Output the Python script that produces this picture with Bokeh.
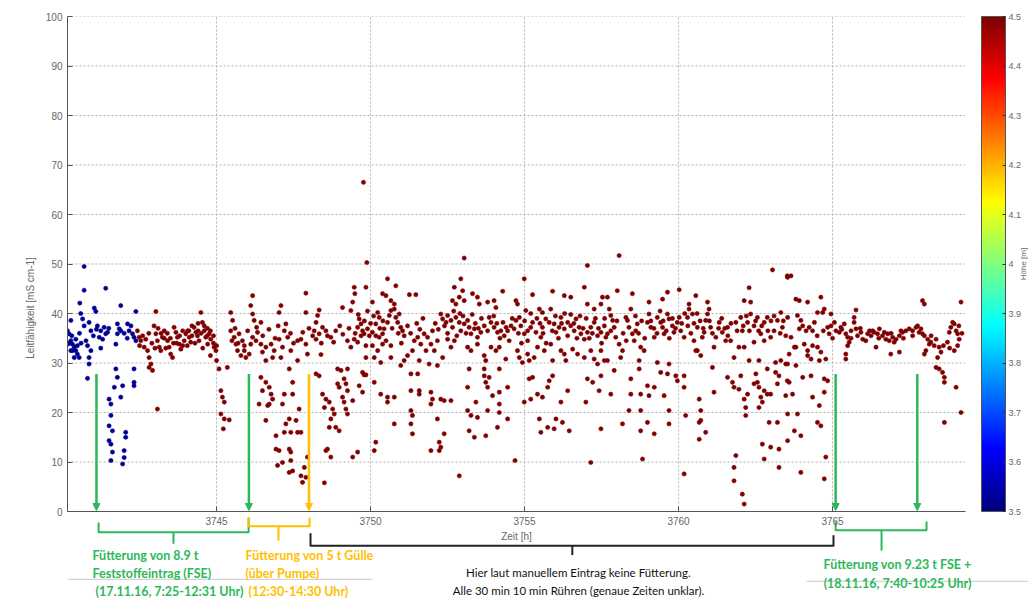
import math
from bokeh.plotting import figure
from bokeh.models import (Range1d, LinearColorMapper, ColorBar, FixedTicker, Label, Arrow,
                          NormalHead, ColumnDataSource, CustomJSTickFormatter)
from bokeh.embed import file_html
from bokeh.resources import INLINE

# ---------------- data ----------------
# time [h], conductivity [mS/cm]; height [m] per group
blue_points = [
    (3740.70,49.5),(3740.70,44.7),(3741.40,45.1),(3740.56,42.1),(3740.59,40.0),(3741.03,41.1),(3741.08,40.4),
    (3741.89,41.6),(3742.38,40.4),(3740.27,38.6),(3740.65,38.9),(3740.70,37.5),(3740.86,38.2),(3740.92,36.5),
    (3741.13,37.5),(3741.24,36.5),(3741.35,37.2),(3741.46,36.2),(3741.19,35.2),(3741.30,34.8),(3741.40,35.9),
    (3741.24,33.0),(3741.78,37.9),(3741.84,36.9),(3741.89,36.5),(3741.78,35.9),(3741.73,33.8),(3742.11,37.9),
    (3742.16,36.5),(3742.22,37.5),(3742.27,35.9),(3742.32,35.2),(3742.38,34.5),(3740.21,35.9),(3740.27,34.5),
    (3740.32,33.8),(3740.38,33.2),(3740.43,32.5),(3740.32,32.5),(3740.48,31.8),(3740.54,31.1),(3740.38,31.1),
    (3740.27,32.5),(3740.16,33.8),(3740.43,34.8),(3740.48,33.5),(3740.76,34.5),(3740.81,33.5),(3740.92,32.5),
    (3740.86,31.1),(3740.86,29.8),(3740.81,26.9),(3740.16,36.5),(3740.21,34.0),(3740.30,35.5),(3740.55,36.0),
    (3740.60,34.0),(3741.00,35.5),(3741.10,36.8),(3741.50,37.0),(3742.00,36.0),(3742.10,35.0),
    (3741.73,28.8),(3741.78,27.1),(3741.68,25.1),(3741.95,25.4),(3742.32,28.8),(3742.32,26.1),(3742.32,25.4),
    (3741.89,23.1),(3741.51,22.7),(3741.57,21.7),(3741.57,19.4),(3741.51,17.3),(3741.62,16.3),(3741.51,14.3),
    (3741.57,13.6),(3741.62,12.0),(3741.57,10.3),(3742.00,12.3),(3742.00,10.9),(3741.95,9.6),(3742.05,16.0),
    (3742.05,15.0),
]
blue_height = 3.52

red_points_a = [
    (3743.03,40.4),(3742.43,36.5),(3742.49,35.2),(3742.54,34.5),(3742.65,33.2),(3742.76,32.5),(3742.81,31.1),
    (3742.87,29.8),(3742.92,28.5),(3742.81,29.1),(3742.97,37.5),(3743.03,35.9),(3743.08,34.5),(3743.14,33.2),
    (3743.19,32.5),(3743.24,35.2),(3743.30,36.5),(3743.41,34.5),(3743.46,33.2),(3743.51,31.8),(3743.57,31.1),
    (3743.62,37.2),(3743.68,36.2),(3743.73,35.2),(3743.79,33.8),(3743.84,32.8),(3743.95,34.5),(3744.00,35.9),
    (3744.06,36.5),(3744.11,35.2),(3744.16,34.2),(3744.27,37.2),(3744.33,36.2),(3744.38,35.5),(3744.43,34.5),
    (3744.49,40.2),(3744.54,38.2),(3744.60,36.5),(3744.65,35.2),(3744.71,33.8),(3744.76,35.9),(3744.81,34.8),
    (3744.92,33.2),(3744.98,32.5),(3745.08,28.8),(3745.35,29.1),(3745.46,40.2),(3745.52,38.6),(3745.46,36.5),
    (3745.57,35.2),(3745.63,33.8),(3745.68,32.5),(3745.79,31.5),(3745.90,32.5),(3745.95,31.1),(3745.73,35.9),
    (3745.84,34.5),(3743.08,20.7),(3745.14,24.4),(3745.19,23.1),(3745.25,22.1),(3745.14,19.7),(3745.25,18.7),
    (3745.41,18.5),(3745.22,16.7),(3742.60,35.5),(3742.90,34.0),(3743.20,36.0),(3743.50,35.0),(3743.70,34.0),
    (3743.90,36.5),(3744.20,37.5),(3744.40,38.0),(3744.50,36.0),(3744.70,37.0),(3744.90,35.5),(3743.35,33.0),
    (3744.05,33.5),(3744.55,33.0),(3745.00,30.5),(3744.80,31.5),
    (3742.5,33.5),(3742.7,34.8),(3742.8,36.0),(3743.0,33.0),(3743.1,37.0),(3743.3,35.0),(3743.4,36.0),
    (3743.6,34.0),(3743.8,35.5),(3743.9,33.5),(3744.1,36.5),(3744.2,35.5),(3744.3,34.0),(3744.4,36.5),
    (3744.6,37.5),(3744.7,35.5),(3744.8,36.5),(3744.9,34.0),(3745.0,33.5),(3745.5,34.5),(3745.6,37.0),
    (3745.7,34.0),(3745.9,33.5),
]
red_points_b = [
    (3749.88,50.3),(3750.55,47.0),(3750.82,45.6),(3747.90,44.1),(3746.17,43.6),(3749.47,45.3),(3749.49,44.0),
    (3749.42,42.3),(3749.85,45.3),(3750.39,44.0),(3750.50,43.6),(3750.66,42.6),(3750.77,41.9),(3751.26,43.8),
    (3751.47,43.8),(3750.06,42.3),(3746.11,41.6),(3746.17,39.9),(3746.22,38.6),(3746.44,38.2),(3747.09,41.6),
    (3747.03,40.2),(3747.90,40.2),(3748.33,40.7),(3748.28,39.6),(3748.23,38.2),(3748.17,36.5),(3748.12,35.5),
    (3748.23,34.8),(3748.33,35.9),(3748.44,37.2),(3748.55,36.5),(3748.60,35.5),(3748.71,35.2),(3748.87,36.5),
    (3749.09,41.2),(3749.36,40.6),(3749.63,38.9),(3749.69,37.9),(3749.58,37.2),(3749.74,36.5),(3749.79,35.9),
    (3749.90,36.9),(3749.96,35.5),(3750.06,36.2),(3750.17,35.5),(3750.28,35.2),(3750.39,35.9),(3750.44,36.9),
    (3750.55,38.2),(3750.61,39.6),(3750.66,40.6),(3750.77,40.9),(3750.82,39.2),(3750.88,38.2),(3750.93,39.9),
    (3750.98,37.2),(3751.04,36.5),(3751.09,35.5),(3750.23,40.2),(3750.28,39.2),(3750.17,37.9),(3749.25,34.5),
    (3749.36,33.2),(3749.47,34.8),(3749.58,34.2),(3749.69,35.5),(3749.85,33.5),(3750.06,33.5),(3750.23,32.5),
    (3750.39,33.8),(3750.66,33.5),(3749.85,31.1),(3750.12,31.1),(3750.33,30.1),(3750.66,31.1),(3750.98,29.5),
    (3751.09,30.5),(3751.20,31.5),(3751.36,32.5),(3751.42,34.5),(3751.53,35.2),(3751.63,33.8),(3751.74,35.9),
    (3751.80,32.5),(3751.58,30.5),(3751.53,27.8),(3751.31,27.8),(3746.01,36.5),(3746.17,35.2),(3746.33,36.2),
    (3746.28,34.5),(3746.11,33.8),(3746.06,31.8),(3746.44,33.8),(3746.60,33.2),(3746.77,33.8),(3746.87,32.5),
    (3746.49,32.2),(3746.60,30.5),(3746.82,31.1),(3747.09,31.1),(3747.14,33.2),(3747.03,34.8),(3747.20,36.5),
    (3747.25,37.9),(3747.31,35.2),(3747.63,34.5),(3747.74,34.8),(3747.90,33.8),(3747.95,31.8),(3747.63,30.5),
    (3747.36,28.8),(3747.41,32.5),(3748.39,31.7),(3748.93,28.8),(3749.04,28.5),(3749.25,28.8),(3749.74,28.1),
    (3749.85,27.6),(3746.44,27.1),(3746.60,26.1),(3746.71,25.1),(3746.49,24.4),(3746.77,23.7),(3746.82,22.7),
    (3746.71,21.7),(3746.38,21.7),(3746.66,21.4),(3747.14,21.7),(3747.20,23.7),(3747.47,23.7),(3747.47,26.1),
    (3747.68,20.7),(3746.60,18.4),(3746.93,15.3),(3747.20,16.0),(3747.25,17.7),(3747.36,18.7),(3747.58,18.4),
    (3747.63,16.0),(3747.41,16.0),(3747.74,16.0),(3746.93,12.6),(3747.03,12.3),(3747.36,12.6),(3747.41,12.0),
    (3747.14,9.9),(3746.98,9.3),(3747.41,10.3),(3747.36,7.9),(3747.47,8.2),(3747.74,7.2),(3747.79,5.9),
    (3747.85,8.9),(3747.90,6.9),(3747.95,11.0),(3748.23,27.8),(3748.33,27.4),(3748.44,23.7),(3748.55,22.7),
    (3748.66,22.1),(3748.50,21.0),(3748.77,20.7),(3748.82,19.7),(3748.71,18.7),(3748.66,17.0),(3748.60,12.6),
    (3748.55,12.3),(3748.71,11.0),(3748.50,5.8),(3748.93,25.8),(3748.98,25.1),(3749.14,26.8),(3749.20,25.8),
    (3749.25,24.4),(3749.09,23.1),(3749.14,22.1),(3749.20,20.7),(3749.25,19.7),(3748.87,17.0),(3748.98,16.3),
    (3749.42,22.4),(3749.63,25.4),(3749.74,24.1),(3749.79,27.6),(3750.12,26.1),(3750.33,23.7),(3750.55,23.1),
    (3750.77,23.1),(3750.55,22.1),(3750.77,17.7),(3750.17,14.0),(3750.12,12.3),(3749.58,12.0),(3749.42,11.0),
    (3751.31,20.4),(3751.36,19.4),(3751.31,17.7),(3751.36,15.7),(3751.31,24.4),(3751.58,24.4),(3751.58,23.7),
    (3749.77,66.5),
    (3746.3,37.2),(3746.5,35.5),(3746.7,36.8),(3746.9,35.0),(3747.0,37.5),(3747.4,36.0),(3747.5,34.0),
    (3747.8,36.2),(3748.0,37.0),(3748.4,34.0),(3748.8,34.2),(3749.0,37.5),(3749.1,35.8),(3749.3,37.0),
    (3749.5,36.0),(3749.6,39.8),(3749.8,38.5),(3749.9,40.5),(3750.0,38.0),(3750.1,39.5),(3750.3,37.0),
    (3750.4,38.5),(3750.5,34.5),(3750.7,37.0),(3750.9,36.0),(3751.0,34.0),(3751.2,37.5),(3751.3,36.0),
    (3751.5,38.0),(3751.6,36.8),(3751.7,39.0),
]
red_points_c = [
    (3753.04,51.2),(3757.04,49.7),(3752.93,47.0),(3752.72,45.3),(3752.99,44.6),(3752.66,42.6),(3752.88,43.3),
    (3752.77,41.9),(3753.04,42.6),(3753.31,44.0),(3753.47,43.3),(3753.53,41.9),(3753.80,42.3),(3754.01,42.6),
    (3754.07,41.2),(3754.29,44.5),(3754.72,42.6),(3754.77,41.9),(3754.99,47.0),(3755.04,40.6),(3755.26,43.8),
    (3755.48,40.9),(3755.58,40.2),(3755.85,40.9),(3755.91,44.5),(3756.29,43.6),(3756.50,43.3),(3756.94,45.3),
    (3757.04,41.9),(3757.26,40.9),(3757.53,43.3),(3757.48,41.9),(3752.28,39.9),(3752.34,38.9),(3752.45,38.2),
    (3752.50,39.6),(3752.61,38.6),(3752.66,37.2),(3752.77,39.2),(3752.88,38.2),(3752.93,36.5),(3753.04,37.9),
    (3753.15,38.6),(3753.20,37.2),(3753.26,35.9),(3753.37,36.9),(3753.47,35.2),(3753.58,36.2),(3753.69,37.5),
    (3753.85,39.2),(3753.91,38.2),(3754.01,37.2),(3754.12,36.2),(3754.23,36.5),(3754.34,35.5),(3754.45,36.5),
    (3754.56,37.5),(3754.66,36.9),(3754.72,38.6),(3754.83,39.2),(3754.88,37.5),(3754.99,35.9),(3755.10,34.5),
    (3755.20,37.2),(3755.26,38.2),(3755.37,36.2),(3755.53,35.2),(3755.58,37.2),(3755.69,38.9),(3755.80,38.2),
    (3755.96,37.9),(3756.02,36.2),(3756.12,37.2),(3756.18,39.2),(3756.29,36.9),(3756.40,38.2),(3756.50,37.5),
    (3756.61,36.5),(3756.67,38.9),(3756.77,37.2),(3756.83,35.9),(3756.94,34.8),(3757.04,36.2),(3757.15,37.2),
    (3757.26,38.2),(3757.37,35.5),(3757.48,36.2),(3757.59,37.5),(3757.64,35.2),(3751.85,35.2),(3751.96,33.8),
    (3752.07,32.5),(3752.17,34.5),(3752.01,36.5),(3752.34,31.1),(3752.50,34.8),(3752.61,33.2),(3752.72,34.5),
    (3753.15,33.2),(3753.26,32.5),(3753.47,33.8),(3753.69,31.5),(3753.74,30.5),(3753.91,33.2),(3754.07,32.5),
    (3754.18,33.2),(3754.39,30.8),(3754.77,32.5),(3754.83,31.1),(3754.93,30.1),(3755.10,31.8),(3755.15,30.5),
    (3755.31,31.1),(3755.42,33.2),(3755.64,32.5),(3755.85,33.8),(3755.91,30.5),(3756.18,32.5),(3756.29,31.8),
    (3756.34,30.5),(3756.56,32.8),(3756.72,31.8),(3756.94,31.1),(3757.15,32.5),(3757.26,30.8),(3757.48,32.5),
    (3757.59,30.5),(3751.90,29.8),(3752.17,29.5),(3753.20,28.8),(3753.69,28.8),(3754.18,28.8),(3753.69,27.4),
    (3753.85,27.1),(3753.74,26.1),(3753.80,25.1),(3754.45,25.1),(3753.96,23.4),(3754.18,24.1),(3753.15,25.1),
    (3751.96,24.1),(3752.01,22.7),(3751.96,21.7),(3752.28,22.7),(3752.39,22.4),(3752.61,22.4),(3753.42,22.1),
    (3754.18,21.7),(3753.15,20.4),(3753.26,19.4),(3753.47,19.0),(3753.80,20.4),(3754.18,20.0),(3754.12,17.0),
    (3754.45,18.7),(3753.20,16.3),(3753.37,15.0),(3753.74,15.3),(3752.39,15.7),(3752.23,14.0),(3752.28,13.0),
    (3752.23,12.3),(3751.96,12.3),(3752.17,18.7),(3754.99,22.1),(3755.20,22.7),(3755.15,26.8),(3755.26,27.1),
    (3755.42,23.7),(3755.58,23.1),(3755.75,25.1),(3755.80,26.4),(3755.91,27.4),(3756.18,22.1),(3755.48,18.7),
    (3755.53,16.0),(3755.75,17.0),(3755.96,16.7),(3756.02,18.7),(3756.23,18.0),(3756.45,16.3),(3756.40,24.4),
    (3756.99,22.1),(3757.04,26.8),(3757.21,26.1),(3757.42,24.4),(3757.48,16.7),(3757.48,27.4),(3757.37,29.8),
    (3754.69,10.3),(3757.15,9.9),(3752.88,7.2),
    (3752.1,38.0),(3752.2,36.8),(3752.4,37.5),(3752.5,36.0),(3752.7,40.5),(3752.8,35.5),(3752.9,40.0),
    (3753.0,39.5),(3753.1,36.0),(3753.3,39.8),(3753.4,38.0),(3753.5,37.0),(3753.6,39.0),(3753.8,36.5),
    (3754.0,39.5),(3754.1,38.0),(3754.2,35.0),(3754.3,38.2),(3754.4,37.2),(3754.5,34.5),(3754.6,39.0),
    (3754.8,36.0),(3754.9,34.0),(3755.0,38.5),(3755.1,36.5),(3755.2,40.0),(3755.4,39.0),(3755.5,38.0),
    (3755.6,36.0),(3755.7,34.0),(3755.9,36.5),(3756.0,39.5),(3756.1,35.0),(3756.2,38.0),(3756.3,40.0),
    (3756.4,35.5),(3756.5,39.8),(3756.6,38.0),(3756.7,35.0),(3756.8,39.5),(3756.9,37.0),(3757.0,39.0),
    (3757.1,35.0),(3757.2,36.0),(3757.3,39.0),(3757.4,37.0),(3757.5,34.0),(3757.6,39.0),
]
red_points_d = [
    (3758.07,51.7),(3763.05,48.8),(3763.53,47.6),(3758.01,44.6),(3758.50,44.0),(3759.64,44.3),(3759.48,42.9),
    (3759.04,42.3),(3760.02,44.8),(3760.34,41.9),(3760.56,43.6),(3760.94,42.3),(3762.29,45.2),(3762.13,42.6),
    (3762.34,42.3),(3757.69,43.3),(3757.75,40.9),(3757.80,39.6),(3757.86,38.6),(3757.91,37.2),(3757.69,35.9),
    (3757.96,35.2),(3758.07,33.8),(3758.18,32.5),(3758.12,31.1),(3758.29,39.2),(3758.34,38.6),(3758.39,37.2),
    (3758.45,40.9),(3758.50,35.9),(3758.56,34.5),(3758.61,36.5),(3758.66,37.9),(3758.77,33.2),(3758.88,32.5),
    (3758.99,38.2),(3759.04,39.9),(3759.10,37.2),(3759.21,35.2),(3759.31,39.2),(3759.42,38.2),(3759.48,37.2),
    (3759.53,35.9),(3759.64,39.9),(3759.69,38.9),(3759.80,37.5),(3759.85,36.2),(3759.96,38.2),(3760.02,39.2),
    (3760.07,36.5),(3760.18,35.2),(3760.29,39.2),(3760.34,40.9),(3760.45,39.9),(3760.50,34.5),(3760.56,32.5),
    (3760.61,37.2),(3760.77,35.2),(3760.83,36.2),(3760.88,38.6),(3760.94,39.9),(3760.99,40.9),(3761.04,37.2),
    (3761.15,33.2),(3761.21,35.2),(3761.32,38.2),(3761.42,36.2),(3761.53,34.5),(3761.59,37.2),(3761.69,34.5),
    (3761.86,38.2),(3762.02,39.2),(3762.07,36.5),(3762.24,38.2),(3762.34,39.9),(3762.45,37.5),(3762.56,39.2),
    (3762.67,35.9),(3762.78,38.2),(3762.88,39.2),(3762.99,35.2),(3763.10,36.5),(3763.21,38.6),(3763.32,40.2),
    (3763.37,37.2),(3763.48,35.5),(3757.69,30.5),(3757.91,28.5),(3757.80,23.7),(3758.45,26.8),(3758.72,30.5),
    (3758.72,28.8),(3758.45,23.7),(3758.39,20.4),(3758.77,23.7),(3758.77,20.4),(3758.99,25.4),(3759.21,25.1),
    (3759.04,23.4),(3759.53,23.4),(3759.31,30.1),(3759.42,28.1),(3759.64,27.8),(3759.69,29.8),(3759.91,27.4),
    (3759.96,26.4),(3760.18,25.1),(3760.18,27.4),(3760.61,32.5),(3760.72,31.5),(3761.10,29.1),(3761.15,24.1),
    (3760.67,22.7),(3760.72,20.4),(3760.23,19.4),(3760.72,18.4),(3760.67,18.0),(3760.88,16.0),(3760.67,14.6),
    (3759.69,20.4),(3759.69,17.7),(3758.99,18.0),(3759.21,15.7),(3758.77,16.3),(3758.18,17.7),(3758.83,10.6),
    (3760.18,7.6),(3761.59,27.1),(3761.75,26.1),(3761.80,25.1),(3761.96,24.7),(3762.02,27.4),(3762.13,22.7),
    (3762.18,21.0),(3762.18,19.4),(3762.24,23.7),(3762.45,25.8),(3762.61,25.1),(3762.67,23.1),(3762.72,22.1),
    (3762.78,24.4),(3762.88,23.7),(3762.99,23.7),(3762.51,27.8),(3762.56,26.1),(3762.88,28.8),(3763.15,28.1),
    (3763.26,27.4),(3763.21,25.8),(3763.32,30.5),(3763.48,29.8),(3763.53,26.4),(3763.48,23.4),(3762.61,21.0),
    (3762.94,18.0),(3763.21,18.0),(3762.72,13.6),(3762.99,13.0),(3763.26,12.6),(3762.78,10.6),(3763.26,8.9),
    (3761.80,31.1),(3761.96,33.2),(3762.13,33.2),(3762.29,30.5),(3762.61,30.5),(3763.15,30.1),(3762.78,34.5),
    (3762.45,34.2),(3761.86,11.3),(3761.80,8.9),(3761.80,6.2),(3762.07,3.5),(3762.13,1.5),
    (3757.8,36.5),(3758.0,38.5),(3758.2,36.0),(3758.3,34.5),(3758.6,39.5),(3758.7,36.0),(3758.8,38.5),
    (3758.9,35.0),(3759.1,38.5),(3759.2,37.0),(3759.3,36.0),(3759.4,40.5),(3759.5,38.5),(3759.6,36.5),
    (3759.7,35.0),(3759.8,39.0),(3759.9,37.0),(3760.1,38.0),(3760.2,40.0),(3760.3,37.5),(3760.4,36.0),
    (3760.5,38.0),(3760.6,40.0),(3760.7,38.5),(3760.8,37.0),(3761.0,38.5),(3761.1,36.0),(3761.3,37.0),
    (3761.4,39.0),(3761.5,37.0),(3761.6,35.5),(3761.7,38.0),(3761.9,36.5),(3762.1,37.5),(3762.2,39.5),
    (3762.3,36.5),(3762.5,38.5),(3762.6,36.5),(3762.7,37.5),(3762.9,36.5),(3763.0,38.5),(3763.1,39.5),
    (3763.3,36.0),(3763.4,38.5),
]
red_points_e = [
    (3763.65,47.6),(3763.54,47.3),(3763.81,42.9),(3763.92,42.6),(3764.19,42.3),(3764.62,43.3),(3764.51,40.2),
    (3764.68,40.2),(3764.95,39.9),(3764.73,40.9),(3765.76,40.7),(3767.92,42.6),(3767.98,41.9),(3769.17,42.3),
    (3763.54,39.2),(3763.86,39.6),(3763.97,38.6),(3764.03,37.5),(3763.92,36.9),(3764.14,36.5),(3764.24,37.2),
    (3764.35,36.5),(3764.41,38.2),(3763.65,35.2),(3763.76,33.2),(3763.59,31.8),(3763.81,33.2),(3764.08,33.8),
    (3764.19,32.5),(3764.30,30.8),(3764.57,30.5),(3764.62,32.2),(3764.78,30.8),(3764.51,33.2),(3764.35,33.5),
    (3764.19,31.5),(3764.84,37.2),(3764.89,35.9),(3764.95,37.5),(3765.06,38.2),(3765.11,36.5),(3765.22,36.2),
    (3765.27,37.2),(3765.38,37.9),(3765.43,35.9),(3765.49,35.2),(3765.54,34.2),(3765.60,36.5),(3765.70,38.2),
    (3765.76,36.9),(3765.81,35.5),(3765.92,36.2),(3765.98,34.8),(3766.08,34.5),(3766.14,35.9),(3766.25,35.5),
    (3766.30,36.5),(3766.35,36.2),(3766.46,35.9),(3766.52,36.9),(3766.62,35.5),(3766.68,36.2),(3766.73,34.8),
    (3766.79,35.9),(3766.84,34.5),(3766.95,35.2),(3767.00,34.2),(3767.06,34.8),(3767.17,35.5),(3767.22,36.5),
    (3767.27,36.2),(3767.38,36.5),(3767.49,36.9),(3767.60,36.5),(3767.71,37.2),(3767.76,37.5),(3767.81,36.2),
    (3767.87,36.9),(3767.92,35.9),(3766.41,33.2),(3766.89,31.8),(3767.17,32.2),(3765.49,33.5),(3765.43,31.8),
    (3765.43,30.8),(3765.70,39.2),(3767.98,35.5),(3768.09,34.8),(3768.14,33.8),(3768.19,34.2),(3768.30,33.5),
    (3768.36,34.8),(3768.46,33.2),(3768.52,32.2),(3768.41,31.1),(3768.36,29.1),(3768.46,28.8),(3768.57,28.1),
    (3768.63,27.1),(3768.63,26.1),(3768.03,32.5),(3767.98,31.8),(3768.73,34.2),(3768.79,36.2),(3768.84,37.2),
    (3768.90,38.2),(3768.95,37.9),(3769.01,36.5),(3769.06,35.9),(3769.11,34.8),(3769.06,33.5),(3768.95,32.5),
    (3769.01,25.1),(3769.17,20.0),(3768.63,18.0),(3763.54,29.8),(3763.81,29.5),(3764.03,27.1),(3764.30,27.4),
    (3763.70,23.7),(3764.35,23.1),(3764.57,21.4),(3763.59,26.1),(3763.54,19.7),(3763.86,19.7),(3764.51,18.0),
    (3764.62,17.3),(3763.76,16.3),(3763.97,15.3),(3763.54,14.3),(3764.73,26.8),(3764.84,26.4),(3764.73,24.1),
    (3764.78,11.0),(3764.73,6.6),(3763.97,7.9),
    (3764.5,35.5),(3764.7,36.5),(3765.0,35.0),(3765.3,36.8),(3765.6,35.0),(3765.9,37.0),(3766.2,36.5),
    (3766.5,35.0),(3766.9,36.0),(3767.3,35.0),(3767.6,35.5),(3768.2,35.5),(3768.6,33.5),(3768.8,33.0),
    (3769.1,37.5),(3769.2,36.0),
]
red_height = 4.5

X_MIN, X_MAX = 3740.16, 3769.3
x_ticks = [3745, 3750, 3755, 3760, 3765]
y_ticks = [0, 10, 20, 30, 40, 50, 60, 70, 80, 90, 100]
cbar_ticks = [3.5, 3.6, 3.7, 3.8, 3.9, 4.0, 4.1, 4.2, 4.3, 4.4, 4.5]

# feeding events (arrow positions, hours) and their colours
event_hours = [3741.1, 3746.05, 3748.0, 3765.1, 3767.75]
GREEN = "#2cb85a"
ORANGE = "#ffc000"
event_colors = [GREEN, GREEN, ORANGE, GREEN, GREEN]

# ---------------- colour map (jet) ----------------
def _jet(x):
    r = min(max(1.5 - abs(4 * x - 3), 0), 1)
    g = min(max(1.5 - abs(4 * x - 2), 0), 1)
    b = min(max(1.5 - abs(4 * x - 1), 0), 1)
    return "#%02x%02x%02x" % (int(r * 255), int(g * 255), int(b * 255))

jet = [_jet(i / 255) for i in range(256)]
mapper = LinearColorMapper(palette=jet, low=3.5, high=4.5)

# ---------------- figure ----------------
# frame covers the area below the axis too, so the notes under the axis can be drawn
W, H = 1028, 599
LEFT, TOP = 67, 16
PX_PER_H = 30.8
PX_PER_UNIT = 4.95
x_end = X_MIN + (W - LEFT) / PX_PER_H
y_start = -(H - 511) / PX_PER_UNIT

TICK_FONT = "Liberation Sans"
p = figure(width=W, height=H, output_backend="svg", toolbar_location=None,
           x_range=Range1d(X_MIN, x_end), y_range=Range1d(y_start, 100),
           min_border_left=LEFT, min_border_right=0, min_border_top=TOP, min_border_bottom=0)
p.outline_line_color = None
p.background_fill_color = "white"
p.xgrid.visible = False
p.ygrid.visible = False

for ax in (p.xaxis[0], p.yaxis[0]):
    ax.major_tick_in = 5
    ax.major_tick_out = 0
    ax.minor_tick_line_color = None
    ax.axis_line_color = "#555555"
    ax.major_tick_line_color = "#555555"
    ax.major_label_text_color = "#666666"
    ax.major_label_text_font = TICK_FONT
    ax.major_label_text_font_size = "10px"
    ax.axis_label_text_color = "#666666"
    ax.axis_label_text_font = TICK_FONT
    ax.axis_label_text_font_size = "10px"
    ax.axis_label_text_font_style = "normal"

p.xaxis.ticker = FixedTicker(ticks=x_ticks)
p.yaxis.ticker = FixedTicker(ticks=y_ticks)
p.xaxis.fixed_location = 0
p.xaxis.bounds = (X_MIN, X_MAX)
p.yaxis.bounds = (0, 100)
p.xaxis.axis_label = "Zeit [h]"
p.yaxis.axis_label = "Leitfähigkeit [mS cm-1]"
p.xaxis.axis_label_standoff = 3
p.yaxis.axis_label_standoff = 7

# dotted grid restricted to the axes box
GRID = dict(line_color="#b0b0b0", line_dash="2 2", line_width=1)
p.segment(x0=x_ticks, y0=[0] * len(x_ticks), x1=x_ticks, y1=[100] * len(x_ticks), **GRID)
yg = y_ticks[1:]
p.segment(x0=[X_MIN] * len(yg), y0=yg, x1=[X_MAX] * len(yg), y1=yg, **GRID)

# ---------------- scatter ----------------
red_all = red_points_a + red_points_b + red_points_c + red_points_d + red_points_e
t = [pt[0] for pt in blue_points] + [pt[0] for pt in red_all]
v = [pt[1] for pt in blue_points] + [pt[1] for pt in red_all]
h = [blue_height] * len(blue_points) + [red_height] * len(red_all)
src = ColumnDataSource(dict(t=t, v=v, h=h))
cmap = {"field": "h", "transform": mapper}
p.scatter("t", "v", source=src, size=4.2, fill_color=cmap, line_color=cmap, line_width=0.6)

# ---------------- event arrows ----------------
for xh, col in zip(event_hours, event_colors):
    p.add_layout(Arrow(x_start=xh, y_start=27.8, x_end=xh, y_end=0.2, line_color=col, line_width=2.5,
                       end=NormalHead(size=7, fill_color=col, line_color=col)))

# ---------------- brackets below the axis ----------------
def polyline(pts, col, w=2):
    xs = [q[0] for q in pts]
    ys = [q[1] for q in pts]
    p.line(xs, ys, line_color=col, line_width=w, line_join="round")

polyline([(3741.17, -2.2), (3741.17, -4.2), (3746.04, -4.2), (3746.04, -1.2)], GREEN)
polyline([(3743.6, -4.2), (3743.6, -6.5)], GREEN)
polyline([(3746.04, -1.2), (3746.04, -3.0), (3748.02, -3.0), (3748.02, -1.2)], ORANGE)
polyline([(3747.01, -3.0), (3747.01, -5.9)], ORANGE)
polyline([(3748.05, -4.4), (3748.05, -6.9), (3765.03, -6.9), (3765.03, -4.8)], "#222222")
polyline([(3756.55, -6.9), (3756.55, -8.8)], "#222222")
polyline([(3765.10, -2.0), (3765.10, -3.8), (3768.05, -3.8), (3768.05, -2.0)], GREEN)
polyline([(3766.59, -3.8), (3766.59, -7.9)], GREEN)
# faint frame lines of the pasted text boxes
polyline([(X_MIN, -13.7), (3750.06, -13.7)], "#c8c8c8", 1)
polyline([(3764.16, -14.1), (x_end, -14.1)], "#c8c8c8", 1)

# ---------------- annotation texts ----------------
ANN_FONT = "Lato"
def txt(x, y, s, col, align="left", bold=True, size="12.5px"):
    p.add_layout(Label(x=x, y=y, text=s, text_color=col, text_font=ANN_FONT, text_font_size=size,
                       text_font_style="bold" if bold else "normal", text_align=align,
                       text_baseline="middle"))

txt(3740.97, -8.9, "Fütterung von 8.9 t", GREEN)
txt(3740.97, -12.5, "Feststoffeintrag (FSE)", GREEN)
txt(3741.07, -16.2, "(17.11.16, 7:25-12:31 Uhr)", GREEN)
txt(3745.94, -8.9, "Fütterung von 5 t Gülle", ORANGE)
txt(3745.94, -12.5, "(über Pumpe)", ORANGE)
txt(3746.04, -16.2, "(12:30-14:30 Uhr)", ORANGE)
txt(3756.75, -12.3, "Hier laut manuellem Eintrag keine Fütterung.", "#111111", "center", False, "11.5px")
txt(3756.75, -16.0, "Alle 30 min 10 min Rühren (genaue Zeiten unklar).", "#111111", "center", False, "11.5px")
txt(3767.11, -10.7, "Fütterung von 9.23 t FSE +", GREEN, "center")
txt(3767.11, -14.5, "(18.11.16, 7:40-10:25 Uhr)", GREEN, "center")

# ---------------- colour bar ----------------
cb = ColorBar(color_mapper=mapper, ticker=FixedTicker(ticks=cbar_ticks),
              formatter=CustomJSTickFormatter(code="return tick.toString();"),
              width=24, height=495, location=(981 - LEFT, H - 511), margin=0, padding=0,
              label_standoff=3,
              major_label_text_font=TICK_FONT, major_label_text_font_size="9px",
              major_label_text_color="#666666", major_tick_in=3, major_tick_line_color="#333333",
              minor_tick_line_color=None, bar_line_color="#555555",
              background_fill_alpha=0, border_line_color=None)
p.add_layout(cb)

p.add_layout(Label(x=X_MIN + (1023 - LEFT) / PX_PER_H, y=50, text="Höhe [m]", angle=math.pi / 2,
                   text_align="center", text_baseline="middle", text_font=TICK_FONT,
                   text_font_size="8px", text_color="#666666"))

open("out.html", "w").write(file_html(p, INLINE))
